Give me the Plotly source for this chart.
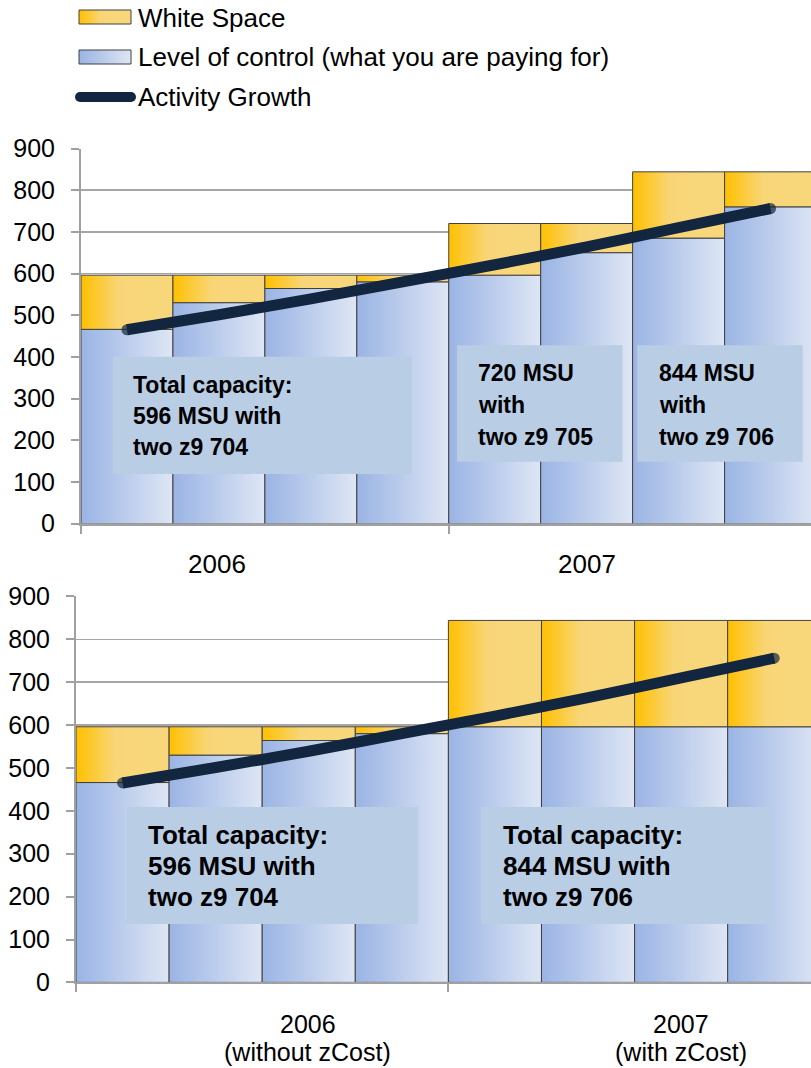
import plotly.graph_objects as go

# ---------------- data ----------------
top_control = [466, 530, 564, 580, 596, 650, 685, 760]
top_total = [596, 596, 596, 596, 720, 720, 844, 844]
bottom_control = [466, 530, 564, 580, 596, 596, 596, 596]
bottom_total = [596, 596, 596, 596, 844, 844, 844, 844]
activity_growth = [465, 501, 539, 580, 621, 664, 710, 756]
y_ticks = [0, 100, 200, 300, 400, 500, 600, 700, 800, 900]
legend_labels = ["White Space", "Level of control (what you are paying for)", "Activity Growth"]
top_group_labels = ["2006", "2007"]
bottom_group_labels = [["2006", "(without zCost)"], ["2007", "(with zCost)"]]
top_box_texts = [["Total capacity:", "596 MSU with", "two z9 704"],
                 ["720 MSU", "with", "two z9 705"],
                 ["844 MSU", "with", "two z9 706"]]
bottom_box_texts = [["Total capacity:", "596 MSU with", "two z9 704"],
                    ["Total capacity:", "844 MSU with", "two z9 706"]]

# ---------------- style ----------------
W, H = 811, 1068
YELLOW = [[0, "#FFC000"], [0.42, "#F8D678"], [1, "#F8D77C"]]
BLUE = [[0, "#9AB4E4"], [1, "#DEE6F4"]]
EDGE = "#404040"
AXIS = "#A0A0A0"
GRID = "#A6A6A6"
NAVY = "#13263F"
BOXC = "#B9CDE5"
TXT = "Liberation Sans, Arial, sans-serif"

fig = go.Figure()


def seg(xa, ya, x0, x1, b, t, cs):
    fig.add_trace(go.Scatter(
        x=[x0, x1, x1, x0, x0], y=[b, b, t, t, b], xaxis=xa, yaxis=ya,
        mode="lines", fill="toself",
        fillgradient=dict(type="horizontal", colorscale=cs),
        line=dict(color=EDGE, width=1), hoverinfo="skip", showlegend=False))


def chart(xa, ya, control, total):
    for i, (c, t) in enumerate(zip(control, total)):
        seg(xa, ya, i, i + 1, 0, c, BLUE)
        seg(xa, ya, i, i + 1, c, t, YELLOW)
    n = len(activity_growth)
    fig.add_trace(go.Scatter(
        x=[i + 0.5 for i in range(n)], y=activity_growth, xaxis=xa, yaxis=ya,
        mode="lines+markers", line=dict(color=NAVY, width=11, shape="spline", smoothing=0.6),
        marker=dict(color=NAVY, size=[11] + [0] * (n - 2) + [11], line=dict(width=0)),
        hoverinfo="skip", showlegend=False))


chart("x", "y", top_control, top_total)
chart("x2", "y2", bottom_control, bottom_total)

# legend keys (in a pixel-scaled helper axis)
fig.add_trace(go.Scatter(x=[79, 131, 131, 79, 79], y=[10, 10, 24, 24, 10], xaxis="x3", yaxis="y3",
                         mode="lines", fill="toself", fillgradient=dict(type="horizontal", colorscale=YELLOW),
                         line=dict(color=EDGE, width=1), hoverinfo="skip", showlegend=False))
fig.add_trace(go.Scatter(x=[79, 131, 131, 79, 79], y=[50, 50, 64, 64, 50], xaxis="x3", yaxis="y3",
                         mode="lines", fill="toself", fillgradient=dict(type="horizontal", colorscale=BLUE),
                         line=dict(color=EDGE, width=1), hoverinfo="skip", showlegend=False))
fig.add_trace(go.Scatter(x=[80, 131], y=[97, 97], xaxis="x3", yaxis="y3",
                         mode="lines+markers", line=dict(color=NAVY, width=10),
                         marker=dict(color=NAVY, size=10, line=dict(width=0)),
                         hoverinfo="skip", showlegend=False))

ann = []
for lab, yy in zip(legend_labels, [18, 57, 97]):
    ann.append(dict(text=lab, x=136, y=yy, xref="x3", yref="y3", xanchor="left", yanchor="middle",
                    showarrow=False, font=dict(family=TXT, size=26, color="black")))

shapes = []
# top boxes
top_boxes = [(0.346, 3.60, 119, 400), (4.09, 5.89, 148, 428), (6.05, 7.85, 148, 428)]
top_text_x = [0.544, 4.30, 6.26]
top_text_y = [[332, 258, 184], [361, 284, 208], [361, 284, 208]]
for (x0, x1, y0, y1), tx, tys, lines in zip(top_boxes, top_text_x, top_text_y, top_box_texts):
    shapes.append(dict(type="rect", xref="x", yref="y", x0=x0, x1=x1, y0=y0, y1=y1,
                       fillcolor=BOXC, line=dict(width=0), layer="above"))
    for ln, ty in zip(lines, tys):
        ann.append(dict(text="<b>%s</b>" % ln, x=tx, y=ty, xref="x", yref="y", xanchor="left",
                        yanchor="middle", showarrow=False, font=dict(family=TXT, size=23, color="black")))

bottom_boxes = [(0.548, 3.67, 136, 409), (4.35, 7.48, 136, 409)]
bottom_text_x = [0.752, 4.565]
bottom_text_y = [344, 271, 199]
for (x0, x1, y0, y1), tx, lines in zip(bottom_boxes, bottom_text_x, bottom_box_texts):
    shapes.append(dict(type="rect", xref="x2", yref="y2", x0=x0, x1=x1, y0=y0, y1=y1,
                       fillcolor=BOXC, line=dict(width=0), layer="above"))
    for ln, ty in zip(lines, bottom_text_y):
        ann.append(dict(text="<b>%s</b>" % ln, x=tx, y=ty, xref="x2", yref="y2", xanchor="left",
                        yanchor="middle", showarrow=False, font=dict(family=TXT, size=26, color="black")))

# group labels (paper y, data x)
for lab, gx in zip(top_group_labels, [1.48, 5.50]):
    ann.append(dict(text=lab, x=gx, y=1 - 564 / H, xref="x", yref="paper", yanchor="middle",
                    showarrow=False, font=dict(family=TXT, size=26, color="black")))
for lines, gx in zip(bottom_group_labels, [2.49, 6.50]):
    for ln, py in zip(lines, [1024, 1052]):
        ann.append(dict(text=ln, x=gx, y=1 - py / H, xref="x2", yref="paper", yanchor="middle",
                        showarrow=False, font=dict(family=TXT, size=25, color="black")))

xcommon = dict(showgrid=False, zeroline=False, showline=True, linecolor=AXIS, linewidth=2,
               tickvals=[0, 4, 8], ticks="outside", ticklen=8, tickcolor=AXIS, tickwidth=2,
               showticklabels=False, fixedrange=True, automargin=False)
ycommon = dict(range=[0, 900], tickvals=y_ticks, showgrid=True, gridcolor=GRID, gridwidth=1.5,
               zeroline=False, showline=True, linecolor=AXIS, linewidth=2, ticks="outside",
               ticklen=8, tickcolor=AXIS, tickwidth=2, ticklabelstandoff=11,
               tickfont=dict(family=TXT, size=25, color="black"), fixedrange=True, automargin=False)

fig.update_layout(
    width=W, height=H, margin=dict(l=0, r=0, t=0, b=0, pad=0, autoexpand=False),
    paper_bgcolor="white", plot_bgcolor="white", showlegend=False,
    xaxis=dict(domain=[81 / W, 1], range=[0, 7.94], anchor="y", **xcommon),
    yaxis=dict(domain=[1 - 523.5 / H, 1 - 148.5 / H], anchor="x", **ycommon),
    xaxis2=dict(domain=[76 / W, 1], range=[0, 7.895], anchor="y2", **xcommon),
    yaxis2=dict(domain=[1 - 982.4 / H, 1 - 596.4 / H], anchor="x2", **ycommon),
    xaxis3=dict(domain=[0, 1], range=[0, W], anchor="y3", visible=False, fixedrange=True, automargin=False),
    yaxis3=dict(domain=[1 - 112 / H, 1], range=[112, 0], anchor="x3", visible=False, fixedrange=True,
                automargin=False),
    shapes=shapes, annotations=ann,
)

post = (
    "document.documentElement.style.margin='0';document.body.style.margin='0';"
    "document.body.style.padding='0';"
    "var gd=document.getElementsByClassName('plotly-graph-div')[0];"
    "gd.style.position='fixed';gd.style.top='0px';gd.style.left='0px';"
    "document.documentElement.style.overflow='hidden';document.body.style.overflow='hidden';"
)
fig.write_html("out.html", config={"displayModeBar": False, "staticPlot": True}, post_script=post)
